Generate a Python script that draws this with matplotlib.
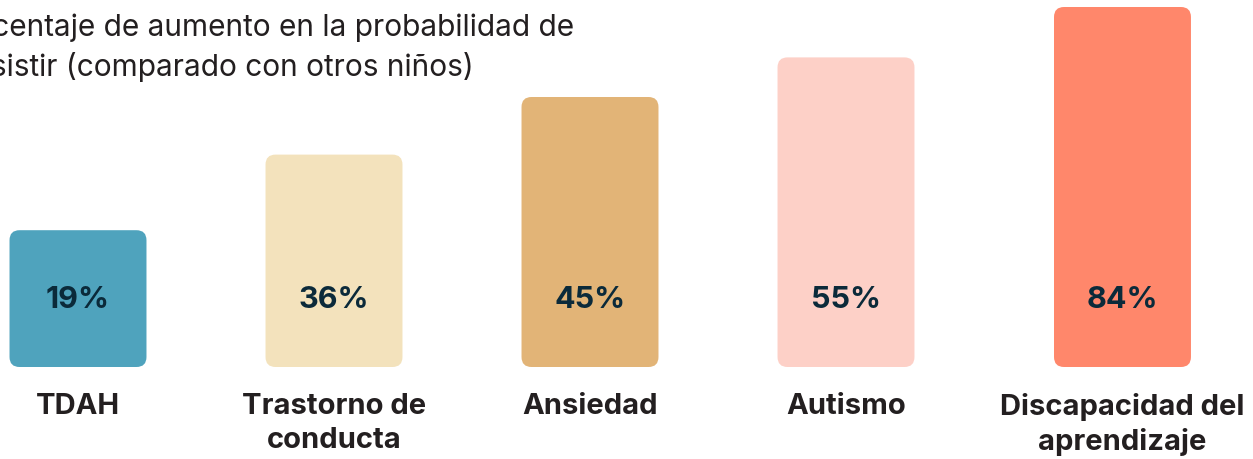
import matplotlib
matplotlib.use("Agg")
import matplotlib.pyplot as plt
from matplotlib.patches import FancyBboxPatch

# data
categories = ["TDAH", "Trastorno de\nconducta", "Ansiedad", "Autismo", "Discapacidad del\naprendizaje"]
values = [19, 36, 45, 55, 84]            # printed labels, in %
bar_heights = [38, 59, 75, 86, 100]      # drawn height of each bar (relative to the tallest)
colors = ["#4fa3bd", "#f3e2bc", "#e2b477", "#fdd0c7", "#ff876b"]
title = "Porcentaje de aumento en la probabilidad de\npersistir (comparado con otros niños)"

# layout
x_pos = [0, 1, 2, 3, 4.08]
width = 0.535
px_x = 256.0   # pixels per x unit
px_y = 3.6     # pixels per y unit

plt.rcParams["font.family"] = ["Inter", "DejaVu Sans"]

fig = plt.figure(figsize=(12.53, 4.59), dpi=100)
ax = fig.add_axes([0, 0, 1, 1])
xmin = -78 / px_x
ymin = -92 / px_y
ax.set_xlim(xmin, xmin + 1253 / px_x)
ax.set_ylim(ymin, ymin + 459 / px_y)
ax.axis("off")

r = 10 / px_x
for x, h, v, c, lab in zip(x_pos, bar_heights, values, colors, categories):
    box = FancyBboxPatch((x - width / 2, 0), width, h,
                         boxstyle=f"round,pad=0,rounding_size={r}",
                         mutation_aspect=px_x / px_y,
                         facecolor=c, edgecolor="none")
    ax.add_patch(box)
    ax.text(x, 18.7, f"{v}%", ha="center", va="center",
            fontsize=22, fontweight="bold", color="#0b2a3a")
    ax.text(x, -7.3, lab, ha="center", va="top", fontsize=21,
            fontweight="bold", color="#231f20", linespacing=1.3)

fig.text(-56 / 1253, 1 - 13 / 459, title, ha="left", va="top",
         fontsize=21.5, color="#231f20", linespacing=1.42)

fig.savefig("out.png", dpi=100, facecolor="white")
